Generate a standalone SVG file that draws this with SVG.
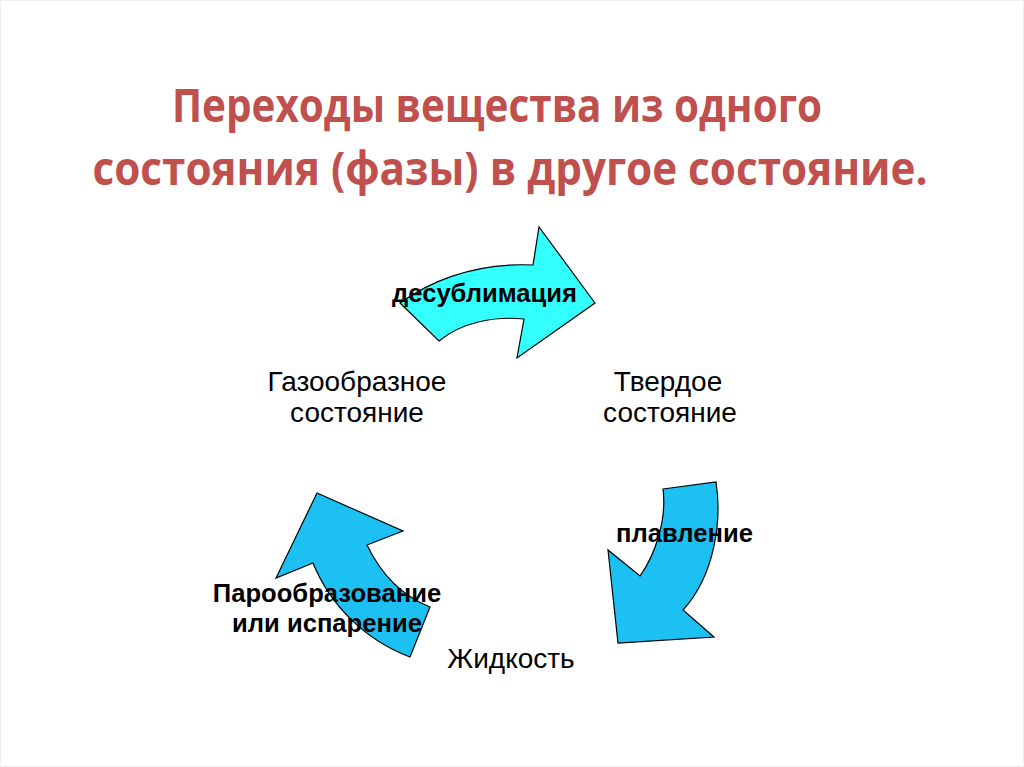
<svg xmlns="http://www.w3.org/2000/svg" width="1024" height="767" viewBox="0 0 1024 767">
<style>
.title{font-family:"Open Sans","Liberation Sans",sans-serif;font-weight:700;font-size:47px;fill:#C0504D;}
.node{font-family:"Liberation Sans",Arial,sans-serif;font-size:28px;fill:#000;text-anchor:middle;}
.lbl{font-family:"Liberation Sans",Arial,sans-serif;font-size:25.6px;font-weight:700;fill:#000;}
.arr{stroke:#000;stroke-width:1.2;stroke-linejoin:miter;}
</style>
<rect x="0" y="0" width="1024" height="767" fill="#fff"/>
<rect x="0.5" y="0.5" width="1023" height="766" fill="none" stroke="#eeeeee" stroke-width="1"/>
<g id="title">
<text class="title" x="497" y="122" text-anchor="middle" textLength="650" lengthAdjust="spacingAndGlyphs">Переходы вещества из одного</text>
<text class="title" x="510" y="185" text-anchor="middle" textLength="835" lengthAdjust="spacingAndGlyphs">состояния (фазы) в другое состояние.</text>
</g>
<g id="connectors">
<g id="arrow-desublimation">
<path class="arr" fill="#33FFFF" d="M400,303 C425,285 470,262 533,265 L539,227 L595,303 L517,358 L524,319 C495,316 462,322 439,341 Z"/>
<text class="lbl" x="392" y="302">десублимация</text>
</g>
<g id="arrow-melting">
<path class="arr" fill="#1CC0F2" d="M663,489 L716,482 C722,520 715,575 683,610 L714,637 L618,643 L608,550 L640,576 C655,555 667,520 663,489 Z"/>
<text class="lbl" x="616" y="542">плавление</text>
</g>
<g id="arrow-vaporization">
<path class="arr" fill="#1CC0F2" d="M317,493 L403,531 L367,545 C380,572 400,595 430,607 L410,657 C365,640 330,605 313,563 L276,578 Z"/>
<text class="lbl" x="327" y="602" text-anchor="middle">Парообразование</text>
<text class="lbl" x="327" y="632" text-anchor="middle">или испарение</text>
</g>
</g>
<g id="node-gas">
<text class="node" x="357" y="391">Газообразное</text>
<text class="node" x="357" y="422">состояние</text>
</g>
<g id="node-solid">
<text class="node" x="668" y="391">Твердое</text>
<text class="node" x="670" y="422">состояние</text>
</g>
<g id="node-liquid">
<text class="node" x="511" y="668">Жидкость</text>
</g>
</svg>
